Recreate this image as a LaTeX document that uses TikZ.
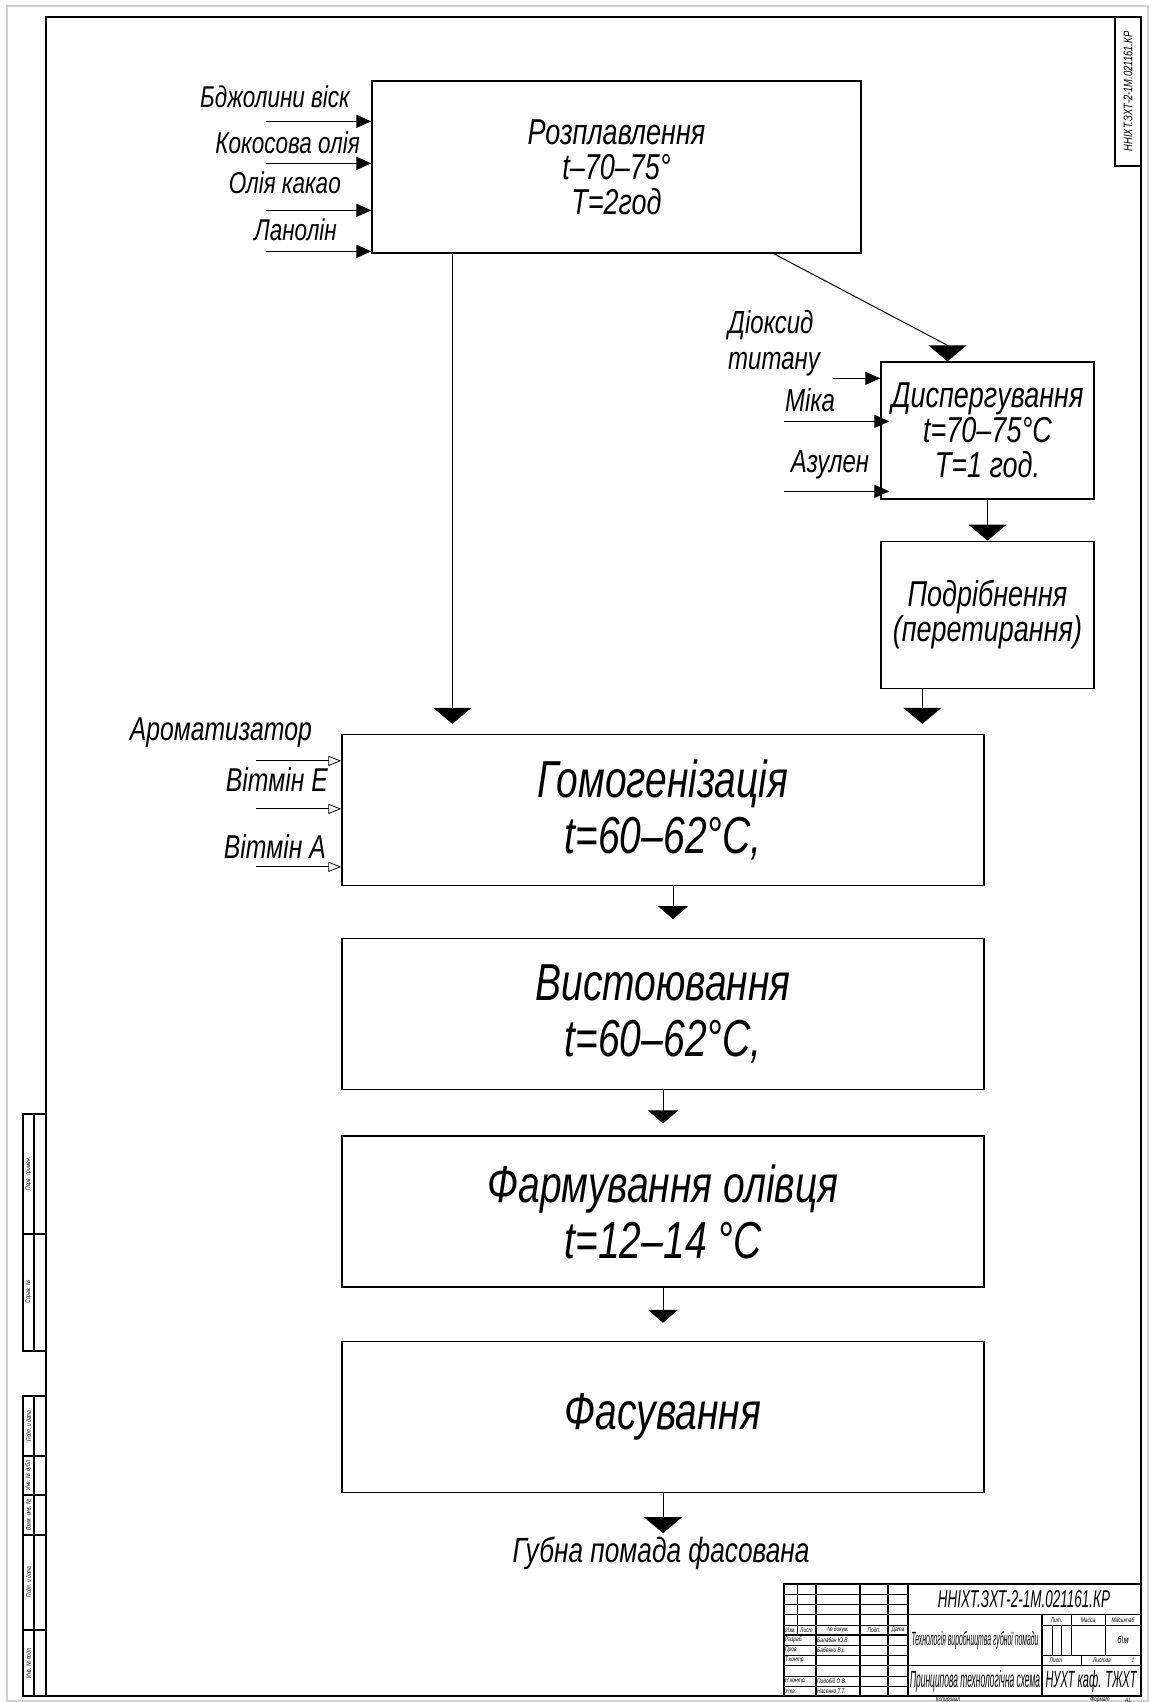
\documentclass[tikz,border=0pt]{standalone}
\usepackage{fontspec}
\setmainfont{Liberation Sans}[FakeStretch=0.75]
\usetikzlibrary{arrows.meta,positioning}
\tikzstyle{proc}=[draw, line width=1.3pt, inner sep=0pt, align=center, font=\itshape\fontsize{36}{35}\selectfont]
\tikzstyle{big}=[proc, minimum width=642pt, minimum height=151pt, font=\itshape\fontsize{52}{56}\selectfont]
\tikzstyle{flow}=[-{Triangle[width=38pt,length=16pt]}, line width=1pt]
\tikzstyle{small}=[-{Triangle[width=30pt,length=13pt]}, line width=1pt]
\tikzstyle{feed}=[-{Triangle[width=13pt,length=15pt]}, line width=1pt]
\tikzstyle{add}=[-{Triangle[open,width=10pt,length=13pt]}, line width=0.8pt]
\tikzstyle{lbl}=[inner sep=0pt, font=\itshape\fontsize{30}{32}\selectfont]
\tikzstyle{tiny}=[inner sep=0pt, font=\itshape\fontsize{6.5}{7}\selectfont]
\tikzstyle{thin}=[line width=0.5pt]
\tikzstyle{thick}=[line width=1.3pt]

\begin{document}
\begin{tikzpicture}[x=1pt,y=-1pt]
\useasboundingbox (0,0) rectangle (1152,1702);
% sheet and frame
\draw[gray!35, line width=1.2pt] (7,6) rectangle (1148,1701);
\draw[line width=1.6pt] (46,17) rectangle (1141,1696);
\draw[thick] (1115,17) rectangle (1141,166);
\node[rotate=90, inner sep=0pt, font=\itshape\fontsize{12.5}{13}\selectfont] (st) at (1128,91.5) {ННІХТ.ЗХТ-2-1М.021161.КР};

% process boxes
\node (A) [proc, minimum width=489pt, minimum height=172pt] at (616.5,167) {Розплавлення\\t–70–75°\\T=2год};
\node (B) [proc, minimum width=213pt, minimum height=137pt] at (987.5,430.5) {Диспергування\\t=70–75°C\\T=1 год.};
\node (C) [proc, minimum width=213pt, minimum height=147pt, below=41pt of B] {Подрібнення\\(перетирання)};
\node (D) [big] at (663,810) {Гомогенізація\\t=60–62°C,};
\node (E) [big, below=52pt of D] {Вистоювання\\t=60–62°C,};
\node (F) [big, below=45pt of E] {Фармування олівця\\t=12–14 °C};
\node (G) [big, below=53pt of F] {Фасування};
\node (H) [lbl, anchor=base, font=\itshape\fontsize{35}{36}\selectfont] at (661,1562) {Губна помада фасована};

% inputs
\node (a1) [lbl, anchor=east] at (350,97) {Бджолини віск};
\node (a2) [lbl, anchor=east] at (360,143) {Кокосова олія};
\node (a3) [lbl, anchor=east] at (341,183) {Олія какао};
\node (a4) [lbl, anchor=east] at (337,230) {Ланолін};
\foreach \y in {41,83,130,171}
  \draw[feed] ([shift={(-105pt,-\y pt)}]A.north west) -- ([yshift=-\y pt]A.north west);

\node (b1) [lbl, anchor=west, align=left, font=\itshape\fontsize{32}{36}\selectfont] at (728,343) {Діоксид\\титану};
\node (b2) [lbl, font=\itshape\fontsize{32}{36}\selectfont] at (810,400) {Міка};
\node (b3) [lbl, font=\itshape\fontsize{32}{36}\selectfont] at (830,465) {Азулен};
\draw[feed] ([shift={(-47pt,-17pt)}]B.north west) -- ([yshift=-17pt]B.north west);
\draw[feed, shorten >=-9pt] ([shift={(-96pt,-60pt)}]B.north west) -- ([yshift=-60pt]B.north west);
\draw[feed, shorten >=-9pt] ([shift={(-96pt,-130pt)}]B.north west) -- ([yshift=-130pt]B.north west);

\node (d1) [lbl, anchor=east, font=\itshape\fontsize{33}{36}\selectfont] at (312,733) {Ароматизатор};
\node (d2) [lbl, anchor=east, font=\itshape\fontsize{33}{36}\selectfont] at (328,780) {Вітмін Е};
\node (d3) [lbl, anchor=east, font=\itshape\fontsize{33}{36}\selectfont] at (326,847) {Вітмін А};
\foreach \y in {27,75,133}
  \draw[add] ([shift={(-85pt,-\y pt)}]D.north west) -- ([yshift=-\y pt]D.north west);

% flow
\coordinate (s1) at ([xshift=81pt]A.south west);
\coordinate (s2) at ([xshift=-88pt]A.south east);
\coordinate (s3) at ([xshift=42pt]C.south west);
\draw[flow, shorten >=10pt] (s1) -- (s1 |- D.north);
\draw[flow] (s2) -- ([shift={(-40pt,16pt)}]B.north) -- ([xshift=-40pt]B.north);
\draw[flow] (B) -- (C);
\draw[flow, shorten >=10pt] (s3) -- (s3 |- D.north);
\draw[small, shorten >=19pt] ([xshift=10pt]D.south) -- ([xshift=10pt]E.north);
\draw[small, shorten >=12pt] (E) -- (F);
\draw[small, shorten >=18pt] (F) -- (G);
\draw[flow, shorten >=3pt] (G) -- (G.south |- H.north);

% left margin
\draw[thick] (23,1114) rectangle (46,1351);
\draw[thick] (34,1114) -- (34,1351) (23,1234) -- (46,1234);
\draw[thick] (23,1396) rectangle (46,1696);
\draw[thick] (34,1396) -- (34,1696);
\foreach \y in {1456,1495,1535,1630} \draw[thick] (23,\y) -- (46,\y);
\node (m1) [tiny, rotate=90] at (28.5,1174) {Перв. примен.};
\node (m2) [tiny, rotate=90] at (28.5,1292) {Справ. №};
\node (m3) [tiny, rotate=90] at (28.5,1426) {Подп. и дата};
\node (m4) [tiny, rotate=90] at (28.5,1475) {Инв. № дубл.};
\node (m5) [tiny, rotate=90] at (28.5,1515) {Взам. инв. №};
\node (m6) [tiny, rotate=90] at (28.5,1582) {Подп. и дата};
\node (m7) [tiny, rotate=90] at (28.5,1663) {Инв. № подл.};

% title block
\draw[thick] (784,1584) rectangle (1141,1696);
\foreach \k in {1,...,10} \draw[thin] (784,{1584+\k*10.2}) -- (908,{1584+\k*10.2});
\draw[thick] (784,{1584+5*10.2}) -- (908,{1584+5*10.2});
\draw[thin] (797,1584) -- (797,{1584+5*10.2});
\foreach \x in {816,860,888} \draw[thick] (\x,1584) -- (\x,1696);
\draw[thick] (908,1584) -- (908,1696);
\draw[thick] (908,1614.6) -- (1141,1614.6);
\draw[thick] (1042,1614.6) -- (1042,1696);
\draw[thick] (908,1665.6) -- (1141,1665.6);
\draw[thin] (1042,1624.8) -- (1141,1624.8) (1042,1655.4) -- (1141,1655.4);
\draw[thin] (1071,1614.6) -- (1071,1655.4) (1105,1614.6) -- (1105,1655.4);
\draw[thin] (1052,1624.8) -- (1052,1655.4) (1061,1624.8) -- (1061,1655.4);
\draw[thin] (1081,1655.4) -- (1081,1665.6);

\node (t1) [tiny] at (790.5,1630) {Изм.};
\node (t2) [tiny] at (806.5,1630) {Лист};
\node (t3) [tiny] at (838,1630) {№ докум.};
\node (t4) [tiny] at (874,1630) {Подп.};
\node (t5) [tiny] at (898,1630) {Дата};
\node (t6) [tiny, anchor=west] at (785,1640) {Разраб.};
\node (t7) [tiny, anchor=west] at (817,1640) {Балабан Ю.В.};
\node (t8) [tiny, anchor=west] at (785,1650) {Пров.};
\node (t9) [tiny, anchor=west] at (817,1650) {Бабенко В.І.};
\node (t10) [tiny, anchor=west] at (785,1660) {Т.контр.};
\node (t11) [tiny, anchor=west] at (785,1681) {Н.контр.};
\node (t12) [tiny, anchor=west] at (817,1681) {Подобій О.В.};
\node (t13) [tiny, anchor=west] at (785,1691) {Утв.};
\node (t14) [tiny, anchor=west] at (817,1691) {Насенко Т.Т.};

\node (n1) [inner sep=0pt] at (1024,1599) {\resizebox{172pt}{17pt}{\itshape ННІХТ.ЗХТ-2-1М.021161.КР}};
\node (n2) [inner sep=0pt] at (975,1640) {\resizebox{127pt}{14pt}{\itshape Технологія виробництва губної помади}};
\node (n3) [inner sep=0pt] at (975,1681) {\resizebox{130pt}{17pt}{\itshape Принципова технологічна схема}};
\node (n4) [inner sep=0pt] at (1091,1681) {\resizebox{91pt}{17pt}{\itshape НУХТ каф. ТЖХТ}};
\node (n5) [tiny] at (1056.5,1620) {Лит.};
\node (n6) [tiny] at (1088,1620) {Масса};
\node (n7) [tiny] at (1123,1620) {Масштаб};
\node (n8) [inner sep=0pt, font=\itshape\fontsize{10}{10}\selectfont] at (1123,1640) {б\textbackslash м};
\node (n9) [tiny] at (1056,1660.5) {Лист};
\node (n10) [tiny] at (1102,1660.5) {Листов};
\node (n11) [tiny] at (1133,1660.5) {1};
\node (n12) [tiny] at (948,1700) {Копировал};
\node (n13) [tiny] at (1100,1700) {Формат};
\node (n14) [tiny] at (1128,1700) {А1};
\end{tikzpicture}
\end{document}
